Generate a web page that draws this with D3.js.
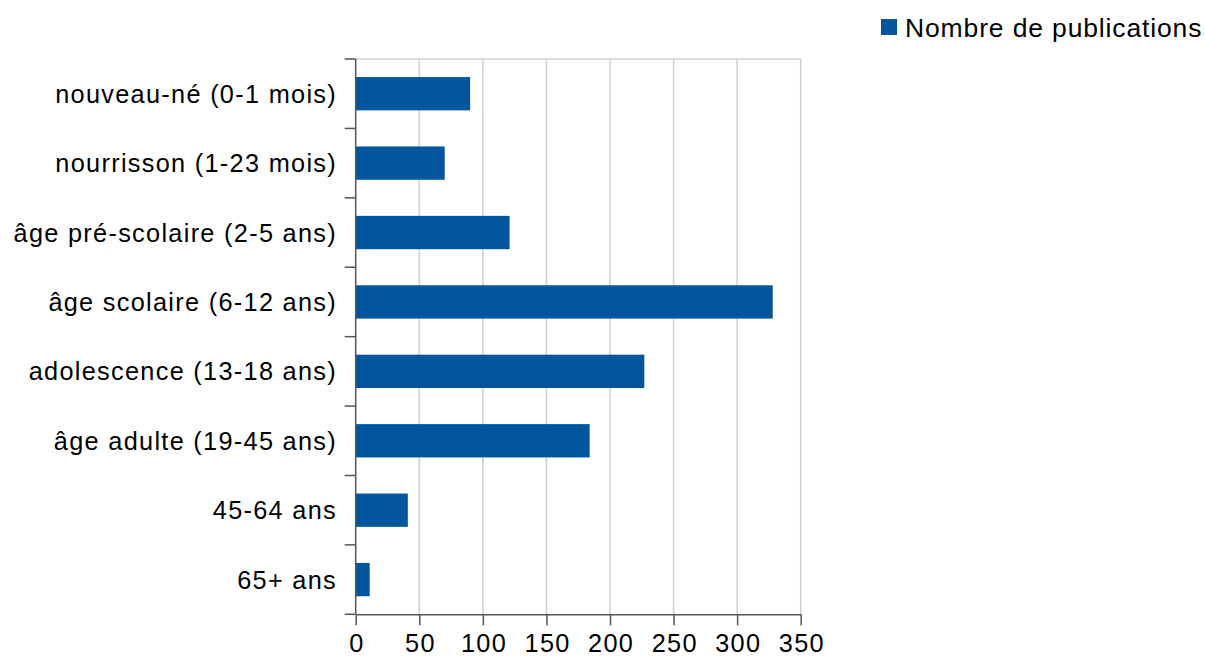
<!DOCTYPE html>
<html><head><meta charset="utf-8">
<script src="https://cdn.jsdelivr.net/npm/d3@7"></script>
<style>body{margin:0;background:#fff}svg{display:block}text{font-family:"Liberation Sans",Arial,sans-serif;fill:#000}</style>
</head><body>
<svg id="c" width="1205" height="659"></svg>
<script>
const categories = ["nouveau-né (0-1 mois)","nourrisson (1-23 mois)","âge pré-scolaire (2-5 ans)","âge scolaire (6-12 ans)","adolescence (13-18 ans)","âge adulte (19-45 ans)","45-64 ans","65+ ans"];
const values = [90, 70, 121, 328, 227, 184, 41, 11];
const xTicks = [0,50,100,150,200,250,300,350];
const seriesName = "Nombre de publications";

const svg = d3.select("#c");
const pL = 355.7, pR = 800.7, pT = 59, pB = 614.3;
const fs = 25.3, ls = 1.3;
const x = d3.scaleLinear().domain([0,350]).range([pL,pR]);
const y = d3.scaleBand().domain(categories).range([pT,pB]).paddingInner(0.52).paddingOuter(0.26);
const yb = d3.scaleBand().domain(categories).range([pT,pB]);

// gridlines
svg.append("g").selectAll("line").data(xTicks.slice(1)).join("line")
  .attr("x1",d=>x(d)).attr("x2",d=>x(d)).attr("y1",pT).attr("y2",pB)
  .attr("stroke","#d0d0d0").attr("stroke-width",1.5);
svg.append("line").attr("x1",pL).attr("x2",pR).attr("y1",pT).attr("y2",pT)
  .attr("stroke","#d0d0d0").attr("stroke-width",1.5);

// bars
svg.append("g").selectAll("rect").data(values).join("rect")
  .attr("x",x(0)).attr("y",(d,i)=>y(categories[i])).attr("width",d=>x(d)-x(0))
  .attr("height",y.bandwidth()).attr("fill","#02569d");

// x axis
const xa = svg.append("g").attr("transform",`translate(0,${pB})`)
  .call(d3.axisBottom(x).tickValues(xTicks).tickSize(11).tickPadding(10).tickSizeOuter(0));
xa.select(".domain").attr("stroke","#555").attr("stroke-width",1.5);
xa.selectAll(".tick line").attr("stroke","#555").attr("stroke-width",1.5);
xa.selectAll("text").attr("font-size",fs).attr("font-family","Liberation Sans, Arial, sans-serif")
  .attr("fill","#000").attr("letter-spacing",ls).attr("dx",ls/2).attr("dy","0.66em");

// y axis: ticks at band boundaries
const bounds = categories.map(c=>yb(c)).concat([pB]);
svg.append("g").selectAll("line").data(bounds).join("line")
  .attr("x1",pL-11).attr("x2",pL).attr("y1",d=>d).attr("y2",d=>d)
  .attr("stroke","#555").attr("stroke-width",1.5);
svg.append("line").attr("x1",pL).attr("x2",pL).attr("y1",pT).attr("y2",pB)
  .attr("stroke","#555").attr("stroke-width",1.5);
svg.append("g").selectAll("text").data(categories).join("text")
  .attr("x",pL-20+ls).attr("y",d=>yb(d)+yb.bandwidth()/2).attr("dy","0.36em")
  .attr("text-anchor","end").attr("font-size",fs).attr("letter-spacing",ls).text(d=>d);

// legend
const lg = svg.append("g");
lg.append("rect").attr("x",881).attr("y",19).attr("width",16).attr("height",16).attr("fill","#02569d");
lg.append("text").attr("x",905).attr("y",36.7).attr("font-size",26.5).attr("letter-spacing",0.86).text(seriesName);
</script>
</body></html>
